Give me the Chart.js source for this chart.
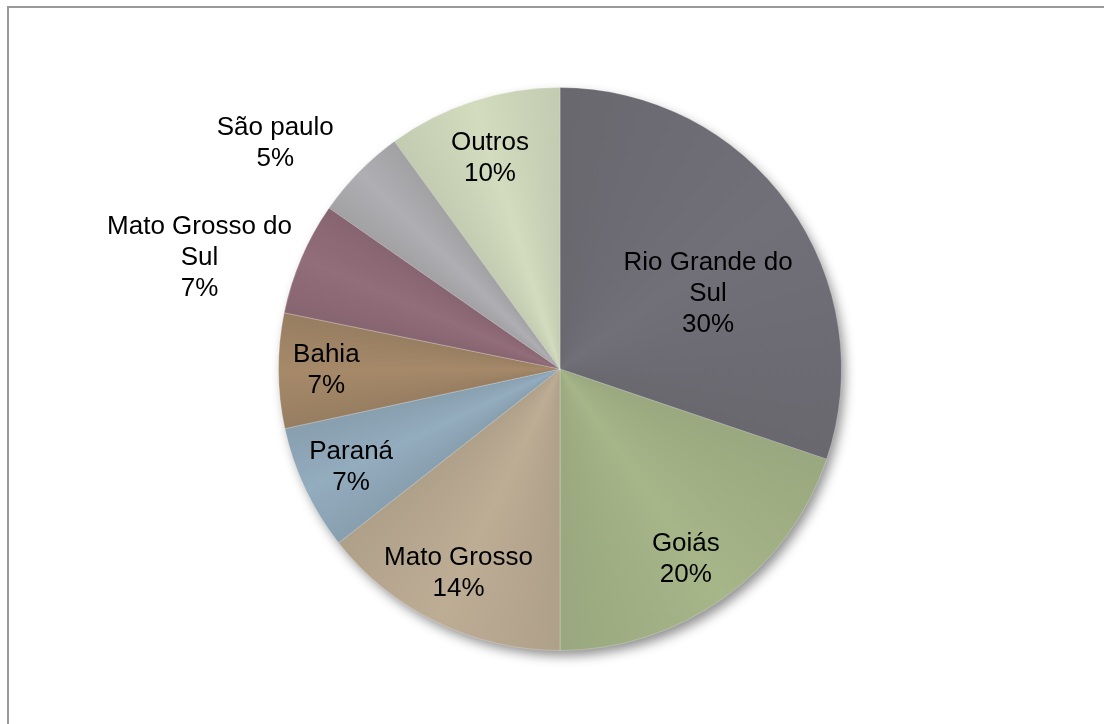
<!DOCTYPE html>
<html lang="pt">
  <head>
    <meta charset="UTF-8" />
    <title>Produção por estado</title>
    <script src="https://cdn.jsdelivr.net/npm/chart.js@4.4.0/dist/chart.umd.min.js"></script>
    <style>
      html, body { margin: 0; padding: 0; background: #fff; overflow: hidden; }
      #wrap { position: relative; width: 1104px; height: 724px; }
      #frame {
        position: absolute; left: 7px; top: 6px; width: 1200px; height: 800px;
        border-top: 2px solid #999; border-left: 2px solid #999;
      }
      canvas { position: absolute; left: 0; top: 0; }
    </style>
  </head>
  <body>
    <div id="wrap">
      <div id="frame"></div>
      <canvas id="chart" width="1104" height="724"></canvas>
    </div>

    <script>
      // data (share of total, %)
      const categories = ['Rio Grande do Sul', 'Goiás', 'Mato Grosso', 'Paraná', 'Bahia', 'Mato Grosso do Sul', 'São paulo', 'Outros'];
      const values = [30.2, 19.8, 14.4, 7.2, 6.6, 6.5, 5.3, 10.0];

      // look
      const colors = ['#6e6d75', '#a1b185', '#b8a891', '#8fa7b8', '#a08566', '#8e6a76', '#aaa9ad', '#cdd6b9'];
      const labelR = [0.59, 0.81, 0.81, 0.82, 0.83, 1.34, 1.29, 0.79]; // fraction of radius
      const labelT = [0.58, 0.53, 0.51, 0.5, 0.5, 0.24, 0.18, 0.49];  // fraction along the slice

      const total = values.reduce((a, b) => a + b, 0);

      function shade(hex, f) {
        const n = parseInt(hex.slice(1), 16);
        const c = [(n >> 16) & 255, (n >> 8) & 255, n & 255].map(v => Math.max(0, Math.min(255, Math.round(v * f))));
        return 'rgb(' + c.join(',') + ')';
      }

      let gradCache = null;
      function sliceFill(ctx) {
        const chart = ctx.chart;
        const a = chart.chartArea;
        if (!a) return colors[ctx.dataIndex];
        if (gradCache) return gradCache;
        const cx = (a.left + a.right) / 2, cy = (a.top + a.bottom) / 2;
        const g = chart.ctx.createConicGradient(-Math.PI / 2, cx, cy);
        let acc = 0;
        const eps = 0.0005;
        values.forEach((v, i) => {
          const s = acc / total, e = (acc + v) / total;
          g.addColorStop(Math.min(1, s + eps), shade(colors[i], 0.95));
          g.addColorStop((s + e) / 2, shade(colors[i], 1.03));
          g.addColorStop(Math.max(0, e - eps), shade(colors[i], 0.95));
          acc += v;
        });
        gradCache = g;
        return g;
      }

      // drop shadow under the whole pie
      const shadowPlugin = {
        id: 'pieShadow',
        beforeDatasetsDraw(chart) {
          const arc = chart.getDatasetMeta(0).data[0];
          if (!arc) return;
          const ctx = chart.ctx;
          ctx.save();
          ctx.shadowColor = 'rgba(0,0,0,0.45)';
          ctx.shadowBlur = 12;
          ctx.shadowOffsetX = 4;
          ctx.shadowOffsetY = 6;
          ctx.beginPath();
          ctx.arc(arc.x, arc.y, arc.outerRadius - 1, 0, Math.PI * 2);
          ctx.fillStyle = '#888';
          ctx.fill();
          ctx.restore();
        }
      };

      function wrap(ctx, text, maxW) {
        const words = text.split(' ');
        const lines = [];
        let cur = '';
        words.forEach(w => {
          const t = cur ? cur + ' ' + w : w;
          if (ctx.measureText(t).width > maxW && cur) { lines.push(cur); cur = w; }
          else cur = t;
        });
        if (cur) lines.push(cur);
        return lines;
      }

      // category + percent labels
      const labelPlugin = {
        id: 'sliceLabels',
        afterDatasetsDraw(chart) {
          const ctx = chart.ctx;
          ctx.save();
          ctx.font = '26px "Liberation Sans", Arial, sans-serif';
          ctx.fillStyle = '#000';
          ctx.textAlign = 'center';
          ctx.textBaseline = 'middle';
          chart.getDatasetMeta(0).data.forEach((arc, i) => {
            const p = arc.getProps(['x', 'y', 'startAngle', 'endAngle', 'outerRadius'], true);
            const ang = p.startAngle + (p.endAngle - p.startAngle) * labelT[i];
            const r = p.outerRadius * labelR[i];
            const x = p.x + Math.cos(ang) * r;
            const y = p.y + Math.sin(ang) * r;
            const lines = wrap(ctx, categories[i], 195);
            lines.push(Math.round(values[i] / total * 100) + '%');
            const lh = 31;
            const y0 = y - (lines.length - 1) * lh / 2;
            lines.forEach((t, k) => ctx.fillText(t, x, y0 + k * lh));
          });
          ctx.restore();
        }
      };

      const ctx = document.getElementById('chart').getContext('2d');
      new Chart(ctx, {
        type: 'pie',
        data: {
          labels: categories,
          datasets: [{
            data: values,
            backgroundColor: sliceFill,
            borderColor: 'rgba(255,255,255,0.25)',
            borderWidth: 1
          }]
        },
        options: {
          responsive: false,
          animation: false,
          layout: { padding: { left: 100, right: 84, top: 87, bottom: 73 } },
          plugins: {
            legend: { display: false },
            tooltip: { enabled: false }
          }
        },
        plugins: [shadowPlugin, labelPlugin]
      });
    </script>
  </body>
</html>
